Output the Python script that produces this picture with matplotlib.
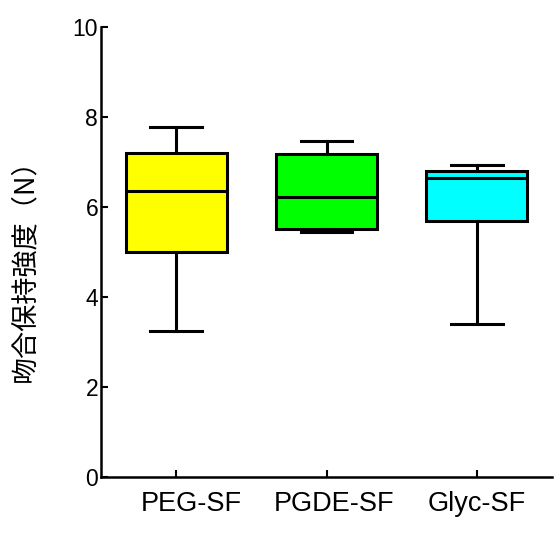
import matplotlib
matplotlib.use("Agg")
import matplotlib.pyplot as plt
from matplotlib.transforms import ScaledTranslation

plt.rcParams['font.family'] = ['Liberation Sans', 'Noto Sans CJK JP']

groups = ['PEG-SF', 'PGDE-SF', 'Glyc-SF']
whislo = [3.24, 5.45, 3.40]
q1 = [5.00, 5.50, 5.68]
med = [6.36, 6.22, 6.64]
q3 = [7.20, 7.18, 6.80]
whishi = [7.78, 7.47, 6.93]
colors = ['#ffff00', '#00ff00', '#00ffff']

stats = []
for i in range(len(groups)):
    stats.append({'label': groups[i], 'whislo': whislo[i], 'q1': q1[i],
                  'med': med[i], 'q3': q3[i], 'whishi': whishi[i], 'fliers': []})

fig = plt.figure(figsize=(5.55, 5.45), dpi=100)
ax = fig.add_axes([0.182, 0.1248, 0.8126, 0.8257])

lw = 2.2
bp = ax.bxp(stats, positions=[1, 2, 3], widths=0.67, capwidths=0.345,
            patch_artist=True, showfliers=False,
            boxprops=dict(linewidth=lw, edgecolor='black'),
            medianprops=dict(linewidth=lw, color='black'),
            whiskerprops=dict(linewidth=lw, color='black'),
            capprops=dict(linewidth=lw, color='black'))
for patch, c in zip(bp['boxes'], colors):
    patch.set_facecolor(c)

ax.set_xlim(0.5, 3.5)
ax.set_ylim(0, 10)
ax.set_yticks([0, 2, 4, 6, 8, 10])
ax.spines['top'].set_visible(False)
ax.spines['right'].set_visible(False)
ax.spines['left'].set_linewidth(1.8)
ax.spines['bottom'].set_linewidth(1.8)
ax.tick_params(direction='in', length=5, width=1.5)
ax.tick_params(axis='y', pad=2, labelsize=16.5)
ax.tick_params(axis='x', pad=10, labelsize=19.5)
ax.set_ylabel('吻合保持強度（N）', family=['Noto Sans CJK JP'], fontsize=19.5)
ax.yaxis.set_label_coords(-0.14, 0.474)

# labels in the original sit a little right of their ticks
for lab, dx in zip(ax.get_xticklabels(), [0.15, 0.08, 0.0]):
    lab.set_transform(lab.get_transform() + ScaledTranslation(dx, 0, fig.dpi_scale_trans))

fig.savefig('out.png', dpi=100)
